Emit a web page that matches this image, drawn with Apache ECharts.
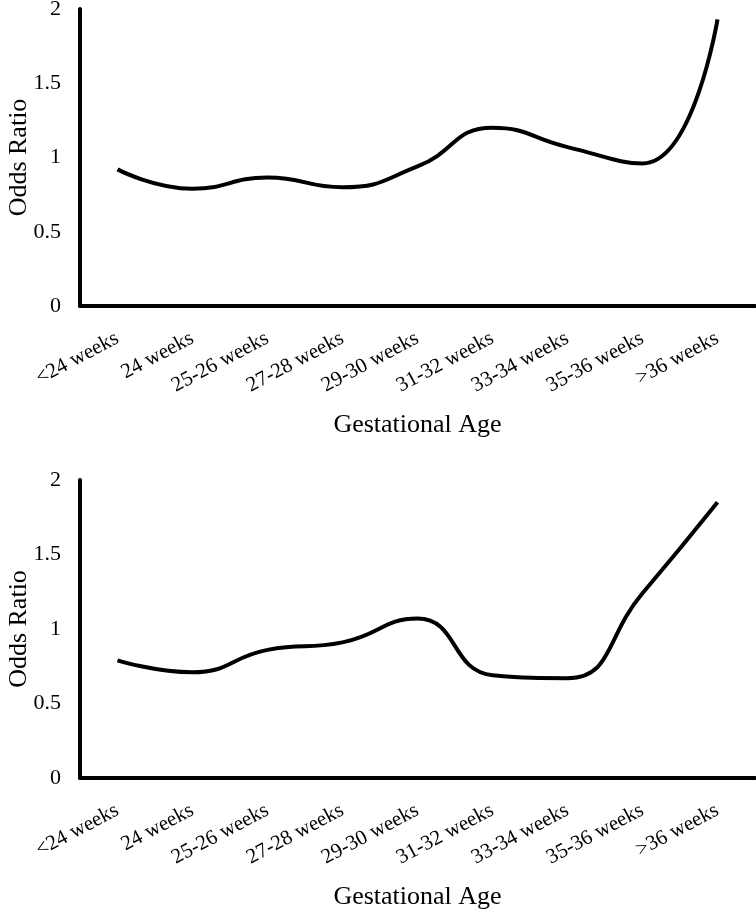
<!DOCTYPE html>
<html>
<head>
<meta charset="utf-8">
<script src="https://cdn.jsdelivr.net/npm/echarts@6/dist/echarts.min.js"></script>
<style>
html,body{margin:0;padding:0;background:#fff;}
#chart{width:756px;height:914px;}
</style>
</head>
<body>
<div id="chart"></div>
<script>
var ages=['<24 weeks','24 weeks','25-26 weeks','27-28 weeks','29-30 weeks','31-32 weeks','33-34 weeks','35-36 weeks','>36 weeks'];
var topOdds=[0.92,0.79,0.865,0.80,0.94,1.20,1.07,0.96,1.93];
var bottomOdds=[0.79,0.71,0.86,0.91,1.07,0.69,0.67,1.24,1.85];
var yTicks=[0,0.5,1,1.5,2];

var font='"Liberation Serif","Times New Roman",serif';

function xAxis(idx){
  return {
    type:'category',gridIndex:idx,data:ages,boundaryGap:true,
    axisLine:{lineStyle:{color:'#000',width:4}},
    axisTick:{show:false},
    axisLabel:{rotate:28,interval:0,margin:31,color:'#000',fontFamily:font,fontSize:21},
    name:'Gestational Age',nameLocation:'middle',nameGap:106,nameMoveOverlap:false,
    nameTextStyle:{color:'#000',fontFamily:font,fontSize:26}
  };
}
function yAxis(idx){
  return {
    type:'value',gridIndex:idx,min:yTicks[0],max:yTicks[yTicks.length-1],interval:0.5,
    axisLine:{show:true,lineStyle:{color:'#000',width:4}},
    axisTick:{show:false},
    splitLine:{show:false},
    axisLabel:{margin:19,color:'#000',fontFamily:font,fontSize:22,
      formatter:function(v){return String(v);}},
    name:'Odds Ratio',nameLocation:'middle',nameGap:48,nameRotate:90,nameMoveOverlap:false,
    nameTextStyle:{color:'#000',fontFamily:font,fontSize:26}
  };
}
function line(idx,data){
  return {
    type:'line',xAxisIndex:idx,yAxisIndex:idx,data:data,smooth:0.5,
    symbol:'none',lineStyle:{color:'#000',width:4},animation:false
  };
}

var myChart=echarts.init(document.getElementById('chart'));
myChart.setOption({
  backgroundColor:'#fff',
  animation:false,
  grid:[
    {left:80,right:1,top:9,height:297,outerBoundsMode:'none',containLabel:false},
    {left:80,right:1,top:480,height:298,outerBoundsMode:'none',containLabel:false}
  ],
  xAxis:[xAxis(0),xAxis(1)],
  yAxis:[yAxis(0),yAxis(1)],
  series:[line(0,topOdds),line(1,bottomOdds)]
});
</script>
</body>
</html>
